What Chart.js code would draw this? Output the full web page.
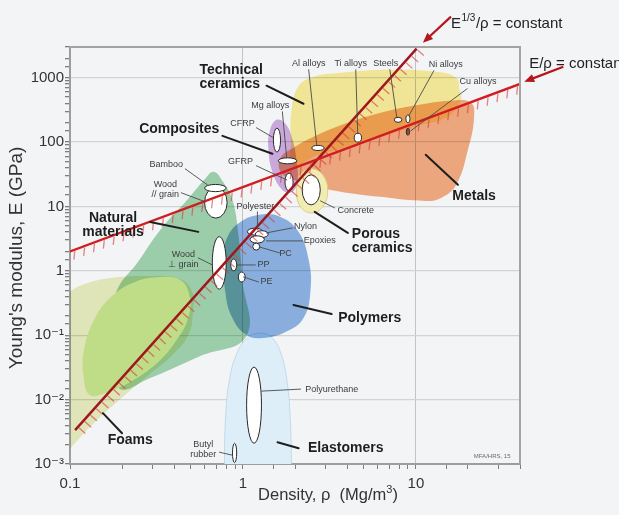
<!DOCTYPE html>
<html>
<head>
<meta charset="utf-8">
<title>Young's modulus vs density</title>
<script src="https://cdn.jsdelivr.net/npm/chart.js@4/dist/chart.umd.min.js"></script>
<style>
  html, body { margin: 0; padding: 0; background: #f3f4f6; }
  #wrap { width: 619px; height: 515px; position: relative; }
</style>
</head>
<body>
<div id="wrap"><canvas id="chart" width="619" height="515"></canvas></div>
<script>
// ---- Axis ticks -------------------------------------------------------
const xTickValues = [0.1, 1, 10];
const xTickText = ['0.1', '1', '10'];
const yTickValues = [0.001, 0.01, 0.1, 1, 10, 100, 1000];
const yTickText = ['10\u207B\u00B3', '10\u207B\u00B2', '10\u207B\u00B9', '1', '10', '100', '1000'];

// ---- Material-class envelopes: [density Mg/m3, modulus GPa] ------------
const foamsOuter = [[0.0875,0.352],[0.103,0.504],[0.122,0.625],[0.171,0.774],[0.291,0.83],[0.434,0.746],
  [0.509,0.469],[0.515,0.246],[0.483,0.1006],[0.38,0.0458],[0.276,0.0225],[0.149,0.00534],[0.104,0.00195],[0.0875,0.00107]];
const foamsCore = [[0.1205,0.0201],[0.1205,0.0589],[0.1396,0.185],[0.175,0.406],[0.238,0.671],[0.3325,0.80],
  [0.434,0.721],[0.49,0.421],[0.483,0.185],[0.406,0.0783],[0.319,0.0369],[0.223,0.0187],[0.1595,0.0126],[0.1306,0.0117]];
const naturalMaterials = [[0.675,34.5],[0.761,24.9],[0.869,12.7],[0.942,3.61],[0.993,0.721],[1.048,0.0971],
  [0.567,0.0474],[0.291,0.0216],[0.19,0.0151],[0.157,0.0842],[0.187,0.504],[0.2445,1.33],[0.3325,4.33],[0.477,12.7],[0.598,25.9]];
const polymers = [[0.771,1.77],[0.824,3.61],[0.967,5.76],[1.23,7.40],[1.65,6.89],[2.10,4.02],[2.40,1.48],
  [2.46,0.504],[2.24,0.185],[1.762,0.112],[1.297,0.0904],[1.048,0.1006],[0.869,0.185],[0.792,0.453]];
const elastomers = [[0.792,0.0048],[0.835,0.0201],[0.929,0.0548],[1.076,0.0937],[1.263,0.108],[1.48,0.0904],
  [1.67,0.0492],[1.811,0.0168],[1.885,0.0040],[1.91,0.0009],[1.91,0.0004],[0.781,0.0004],[0.781,0.0009]];
const technicalCeramics = [[1.89,109],[1.91,318],[2.07,699],[2.46,1000],[3.68,1197],[7.16,1331],[13.1,1240],
  [17.1,1000],[17.9,650],[18.2,455],[15.3,247],[9.73,173],[6.27,121],[4.03,84.5],[2.56,59],[1.95,42]];
const metals = [[1.65,57],[1.96,81.5],[2.56,121],[4.03,200],[6.27,286],[9.73,367],[16.0,439],[20.8,408],
  [21.7,239],[20.0,75.9],[17.1,21.7],[14.0,13.6],[11.4,12.2],[6.27,14.1],[3.22,18.1],[1.96,25.9],[1.65,34.5]];
const porousCeramics = [[2.495,38.4],[2.89,31.0],[3.09,17.5],[2.89,9.86],[2.495,7.95],[2.155,9.86],[2.04,17.5],[2.155,31.0]];
const composites = [[1.563,222],[1.762,193],[1.936,109],[2.04,53.1],[2.07,25.9],[1.936,16.9],[1.69,18.1],
  [1.48,34.5],[1.405,75.9],[1.425,145]];

// ---- Material families: density range and modulus range ---------------
const familyNames = ['CFRP','GFRP','Mg alloys','Al alloys','Ti alloys','Steels','Ni alloys','Cu alloys','Concrete',
  'Wood // grain','Bamboo','Wood \u22A5 grain','Polyester','Nylon','Epoxies','PC','PP','PE','Polyurethane','Butyl rubber'];
const familyRho = [[1.5,1.65],[1.75,1.95],[1.6,2.05],[2.5,2.95],[4.4,4.85],[7.5,8.3],[8.75,9.25],[8.8,9.2],[2.2,2.8],
  [0.6,0.81],[0.6,0.8],[0.665,0.8],[1.06,1.3],[1.18,1.4],[1.1,1.33],[1.14,1.25],[0.85,0.92],[0.94,1.03],[1.05,1.28],[0.87,0.92]];
const familyE = [[70,165],[17.5,33],[46,57],[74,89],[100,137],[203,243],[200,265],[128,164],[10.6,31],
  [6.6,20],[17,22],[0.52,3.4],[3.6,4.6],[3.3,4.2],[2.7,3.5],[2.1,2.7],[1.0,1.53],[0.67,0.96],[0.0021,0.032],[0.00105,0.0021]];

// ---- Selection guidelines ----------------------------------------------
const guideSpecific = [[0.1, 2], [40, 800]];        // E/rho = 20
const guideCubic = [[0.107, 0.00336], [10.1, 2830]]; // E^(1/3)/rho = 1.4

// ---- Styling / annotation layout ----------------------------------------
const FONT = "'Liberation Sans', Arial, Helvetica, 'DejaVu Sans', sans-serif";
const familyFill = { 'Cu alloys': '#5a5a5a' };

const classLabels = [
  { text: ['Technical', 'ceramics'], at: [0.56, 1018], from: [1.368, 751], to: [2.24, 394], align: 'left' },
  { text: ['Composites'], at: [0.428, 161], from: [0.761, 125], to: [1.48, 65.8] },
  { text: ['Natural', 'materials'], at: [0.1775, 5.17], from: [0.291, 5.76], to: [0.552, 4.03] },
  { text: ['Foams'], at: [0.223, 0.00234], from: [0.2, 0.00301], to: [0.155, 0.00617] },
  { text: ['Polymers'], at: [5.41, 0.185], from: [3.26, 0.214], to: [1.96, 0.295] },
  { text: ['Elastomers'], at: [3.93, 0.00176], from: [2.10, 0.00176], to: [1.585, 0.00218] },
  { text: ['Metals'], at: [21.7, 14.6], from: [17.5, 21.7], to: [11.4, 63.5] },
  { text: ['Porous', 'ceramics'], at: [4.26, 2.87], from: [4.04, 3.89], to: [2.60, 8.24], align: 'left' }
];
const familyLabels = [
  { text: ['Al alloys'], at: [2.40, 1651], from: [2.40, 1331], to: [2.67, 90.8] },
  { text: ['Ti alloys'], at: [4.2, 1651], from: [4.49, 1331], to: [4.61, 135] },
  { text: ['Steels'], at: [6.70, 1651], from: [7.07, 1331], to: [7.76, 239] },
  { text: ['Ni alloys'], at: [14.9, 1592], from: [12.7, 1285], to: [9.1, 256] },
  { text: ['Cu alloys'], at: [22.9, 866], from: [19.8, 674], to: [9.35, 150] },
  { text: ['Mg alloys'], at: [1.44, 367], from: [1.69, 296], to: [1.79, 57] },
  { text: ['CFRP'], at: [0.993, 193], from: [1.197, 167], to: [1.50, 117] },
  { text: ['GFRP'], at: [0.967, 49.4], from: [1.197, 42.8], to: [1.79, 25.9] },
  { text: ['Bamboo'], at: [0.36, 44.4], from: [0.464, 38.4], to: [0.623, 21.7] },
  { text: ['Wood', '// grain'], at: [0.356, 18.1], from: [0.44, 16.3], to: [0.607, 11.8] },
  { text: ['Wood', '\u22A5 grain'], at: [0.452, 1.477], from: [0.552, 1.587], to: [0.666, 1.235] },
  { text: ['Polyester'], at: [1.18, 9.86], from: [1.213, 8.24], to: [1.213, 4.48] },
  { text: ['Nylon'], at: [2.30, 4.82], from: [1.936, 4.65], to: [1.368, 3.89] },
  { text: ['Epoxies'], at: [2.78, 2.92], from: [2.21, 2.92], to: [1.368, 2.92] },
  { text: ['PC'], at: [1.763, 1.83], from: [1.628, 1.90], to: [1.246, 2.35] },
  { text: ['PP'], at: [1.315, 1.235], from: [1.18, 1.235], to: [0.917, 1.235] },
  { text: ['PE'], at: [1.368, 0.672], from: [1.23, 0.672], to: [1.007, 0.804] },
  { text: ['Polyurethane'], at: [3.26, 0.01456], from: [2.155, 0.01456], to: [1.28, 0.01355] },
  { text: ['Butyl', 'rubber'], at: [0.59, 0.0017], from: [0.731, 0.001526], to: [0.869, 0.00137] },
  { text: ['Concrete'], at: [4.49, 8.55], from: [3.39, 9.51], to: [2.81, 12.2] }
];
const guideNotes = {
  cubic: { at: [15.96, 6918], tail: [15.96, 8888], tip: [10.98, 3500] },
  specific: { at: [45.2, 1651], tail: [71.2, 1483], tip: [42.3, 866] }
};

// ---- Helpers -------------------------------------------------------------
const toXY = arr => arr.map(([x, y]) => ({ x, y }));
const sameLog = (a, b) => Math.abs(Math.log10(a) - Math.log10(b)) < 1e-6;
const isDecade = v => { const l = Math.log10(v); return Math.abs(l - Math.round(l)) < 1e-6; };
function tickText(v, values, texts) {
  const i = values.findIndex(t => sameLog(t, v));
  return i >= 0 ? texts[i] : '';
}
function toPx(chart, p) {
  return [chart.scales.x.getPixelForValue(p[0]), chart.scales.y.getPixelForValue(p[1])];
}

// Back-to-front drawing list
const drawList = [
  { data: foamsOuter, fill: '#eaefc0', blend: 'multiply' },
  { data: naturalMaterials, fill: '#a4d7b0', blend: 'multiply' },
  { data: foamsCore, fill: '#bedd86', blend: 'source-over' },
  { data: elastomers, fill: '#ddeef8', blend: 'source-over', edge: 'rgba(165,198,222,0.55)' },
  { data: polymers, fill: '#90b6e6', blend: 'multiply' },
  { data: technicalCeramics, fill: '#fcf09c', blend: 'multiply' },
  { data: metals, fill: '#f8ae82', blend: 'multiply' },
  { data: porousCeramics, fill: '#f1ecb2', blend: 'source-over', edge: '#dad07f' },
  { data: composites, fill: '#d3b1e3', blend: 'multiply', familiesAfter: true },
  { data: guideCubic, line: '#9f171c', hatch: { spacing: 8.6, length: 10, angle: 42, color: 'rgba(214,60,60,0.62)', width: 1.3 } },
  { data: guideSpecific, line: '#d11d20', hatch: { spacing: 10.5, length: 10, angle: 96, color: 'rgba(214,60,60,0.62)', width: 1.3 } }
];

const datasets = drawList.map((d, i) => {
  const base = {
    data: toXY(d.data),
    showLine: true,
    order: drawList.length - i,
    pointRadius: 0,
    pointHoverRadius: 0,
    blend: d.blend || 'source-over',
    familiesAfter: !!d.familiesAfter,
    hatch: d.hatch || null
  };
  if (d.line) {
    return Object.assign(base, { borderColor: d.line, borderWidth: 2.4, fill: false, tension: 0 });
  }
  return Object.assign(base, {
    closed: true,
    backgroundColor: d.fill,
    borderColor: d.edge || 'rgba(0,0,0,0)',
    borderWidth: d.edge ? 1 : 0,
    fill: 'shape',
    tension: 0.42
  });
});

// ---- Drawing routines ----------------------------------------------------
function drawFamilies(chart) {
  const ctx = chart.ctx, xs = chart.scales.x, ys = chart.scales.y;
  const a = chart.chartArea;
  ctx.save();
  ctx.beginPath(); ctx.rect(a.left, a.top, a.right - a.left, a.bottom - a.top); ctx.clip();
  familyNames.forEach((name, i) => {
    const x0 = xs.getPixelForValue(familyRho[i][0]), x1 = xs.getPixelForValue(familyRho[i][1]);
    const y0 = ys.getPixelForValue(familyE[i][0]), y1 = ys.getPixelForValue(familyE[i][1]);
    ctx.beginPath();
    ctx.ellipse((x0 + x1) / 2, (y0 + y1) / 2, Math.abs(x1 - x0) / 2, Math.abs(y1 - y0) / 2, 0, 0, Math.PI * 2);
    ctx.fillStyle = familyFill[name] || '#ffffff';
    ctx.fill();
    ctx.lineWidth = 1;
    ctx.strokeStyle = '#2a2a2a';
    ctx.stroke();
  });
  ctx.restore();
}

function drawHatch(chart, meta, h) {
  const pts = meta.data;
  if (!pts || pts.length < 2) return;
  const ctx = chart.ctx, a = chart.chartArea;
  const p = pts[0], q = pts[pts.length - 1];
  const dx = q.x - p.x, dy = q.y - p.y, len = Math.hypot(dx, dy);
  const ux = dx / len, uy = dy / len;
  const ang = h.angle * Math.PI / 180, tx = Math.cos(ang), ty = Math.sin(ang);
  ctx.save();
  ctx.beginPath(); ctx.rect(a.left, a.top, a.right - a.left, a.bottom - a.top); ctx.clip();
  ctx.strokeStyle = h.color; ctx.lineWidth = h.width;
  ctx.beginPath();
  for (let s = h.spacing / 2; s < len; s += h.spacing) {
    const x = p.x + ux * s, y = p.y + uy * s;
    ctx.moveTo(x + tx * 1.6, y + ty * 1.6);
    ctx.lineTo(x + tx * h.length, y + ty * h.length);
  }
  ctx.stroke();
  ctx.restore();
}

function drawLabel(chart, lab, st) {
  const ctx = chart.ctx;
  const [fx, fy] = toPx(chart, lab.from), [tx, ty] = toPx(chart, lab.to);
  ctx.save();
  ctx.strokeStyle = st.lead; ctx.lineWidth = st.leadWidth; ctx.lineCap = 'round';
  ctx.beginPath(); ctx.moveTo(fx, fy); ctx.lineTo(tx, ty); ctx.stroke();
  const [ax, ay] = toPx(chart, lab.at);
  ctx.font = st.font; ctx.fillStyle = st.color;
  ctx.textAlign = lab.align || 'center'; ctx.textBaseline = 'middle';
  const n = lab.text.length;
  lab.text.forEach((t, i) => ctx.fillText(t, ax, ay + (i - (n - 1) / 2) * st.lineHeight));
  ctx.restore();
}

function drawArrow(chart, note) {
  const ctx = chart.ctx;
  const [x0, y0] = toPx(chart, note.tail), [x1, y1] = toPx(chart, note.tip);
  const ang = Math.atan2(y1 - y0, x1 - x0), head = 10, half = 4.2;
  ctx.save();
  ctx.strokeStyle = '#b4161c'; ctx.fillStyle = '#b4161c'; ctx.lineWidth = 2.2;
  ctx.beginPath(); ctx.moveTo(x0, y0);
  ctx.lineTo(x1 - Math.cos(ang) * head * 0.8, y1 - Math.sin(ang) * head * 0.8); ctx.stroke();
  ctx.beginPath();
  ctx.moveTo(x1, y1);
  ctx.lineTo(x1 - Math.cos(ang) * head - Math.sin(ang) * half, y1 - Math.sin(ang) * head + Math.cos(ang) * half);
  ctx.lineTo(x1 - Math.cos(ang) * head + Math.sin(ang) * half, y1 - Math.sin(ang) * head - Math.cos(ang) * half);
  ctx.closePath(); ctx.fill();
  ctx.restore();
}

function setBlend(chart, meta) {
  const ds = meta ? chart.data.datasets[meta.index] : null;
  chart.ctx.globalCompositeOperation = (ds && ds.blend) || 'source-over';
}

const ashbyPlugin = {
  id: 'ashby',
  beforeDraw(chart) {
    const ctx = chart.ctx;
    ctx.save();
    ctx.fillStyle = '#f3f4f6';
    ctx.fillRect(0, 0, chart.width, chart.height);
    ctx.restore();
  },
  afterDatasetUpdate(chart, args) {
    // close each envelope into a smooth loop
    const ds = chart.data.datasets[args.index];
    const line = args.meta.dataset;
    if (ds.closed && line) {
      line._fullLoop = true;
      delete line._segments;
      delete line._path;
      line._pointsUpdated = false;
    }
  },
  beforeDatasetsDraw(chart) {
    const metas = chart.getSortedVisibleDatasetMetas();
    setBlend(chart, metas[metas.length - 1]);
  },
  afterDatasetDraw(chart, args) {
    const ds = chart.data.datasets[args.index];
    chart.ctx.globalCompositeOperation = 'source-over';
    if (ds.hatch) drawHatch(chart, args.meta, ds.hatch);
    if (ds.familiesAfter) drawFamilies(chart);
    const metas = chart.getSortedVisibleDatasetMetas();
    const pos = metas.indexOf(args.meta);
    if (pos > 0) setBlend(chart, metas[pos - 1]);
  },
  afterDatasetsDraw(chart) {
    const ctx = chart.ctx, a = chart.chartArea;
    ctx.globalCompositeOperation = 'source-over';
    ctx.save();
    ctx.strokeStyle = '#a3a3a3'; ctx.lineWidth = 2;
    ctx.beginPath();
    ctx.moveTo(a.left, a.top); ctx.lineTo(a.right, a.top); ctx.lineTo(a.right, a.bottom);
    ctx.stroke();
    ctx.restore();
  },
  afterDraw(chart) {
    const ctx = chart.ctx, a = chart.chartArea;
    classLabels.forEach(l => drawLabel(chart, l, {
      font: `bold 14px ${FONT}`, color: '#1e1e1e', lead: '#1e1e1e', leadWidth: 2, lineHeight: 13.5 }));
    familyLabels.forEach(l => drawLabel(chart, l, {
      font: `9px ${FONT}`, color: '#3c3c3c', lead: '#4a4a4a', leadWidth: 0.9, lineHeight: 10 }));

    // credit
    ctx.save();
    const [cx, cy] = toPx(chart, [27.6, 0.00132]);
    ctx.font = `6px ${FONT}`; ctx.fillStyle = '#6a6a6a'; ctx.textAlign = 'center'; ctx.textBaseline = 'middle';
    ctx.fillText('MFA/HRS, 15', cx, cy);
    ctx.restore();

    // guideline captions and arrows
    drawArrow(chart, guideNotes.cubic);
    drawArrow(chart, guideNotes.specific);
    ctx.save();
    ctx.fillStyle = '#222'; ctx.textBaseline = 'middle'; ctx.textAlign = 'left';
    let [gx, gy] = toPx(chart, guideNotes.cubic.at);
    ctx.font = `15px ${FONT}`; ctx.fillText('E', gx, gy); gx += ctx.measureText('E').width + 0.5;
    ctx.font = `10px ${FONT}`; ctx.fillText('1/3', gx, gy - 5); gx += ctx.measureText('1/3').width + 0.5;
    ctx.font = `15px ${FONT}`; ctx.fillText('/\u03C1 = constant', gx, gy);
    const [sx, sy] = toPx(chart, guideNotes.specific.at);
    ctx.fillText('E/\u03C1 = constant', sx, sy);
    ctx.restore();

    // axis titles
    ctx.save();
    ctx.fillStyle = '#333'; ctx.textBaseline = 'middle';
    const main = 'Density, \u03C1  (Mg/m', close = ')';
    ctx.font = `16.5px ${FONT}`; const w1 = ctx.measureText(main).width;
    ctx.font = `11px ${FONT}`; const w2 = ctx.measureText('3').width;
    ctx.font = `16.5px ${FONT}`; const w3 = ctx.measureText(close).width;
    let tx = a.left + 258 - (w1 + w2 + w3) / 2;
    const ty = a.bottom + 31;
    ctx.textAlign = 'left';
    ctx.fillText(main, tx, ty); tx += w1;
    ctx.font = `11px ${FONT}`; ctx.fillText('3', tx, ty - 5); tx += w2;
    ctx.font = `16.5px ${FONT}`; ctx.fillText(close, tx, ty);
    ctx.translate(a.left - 53, (a.top + a.bottom) / 2 + 2.5);
    ctx.rotate(-Math.PI / 2);
    ctx.textAlign = 'center';
    ctx.font = `19px ${FONT}`;
    ctx.fillText("Young's modulus, E (GPa)", 0, 0);
    ctx.restore();
  }
};

Chart.defaults.font.family = FONT;
Chart.defaults.color = '#333';

new Chart(document.getElementById('chart'), {
  type: 'scatter',
  data: { datasets },
  plugins: [ashbyPlugin],
  options: {
    responsive: false,
    devicePixelRatio: 1,
    animation: false,
    events: [],
    layout: { padding: { left: 0, right: 99, top: 47, bottom: 0 } },
    plugins: { legend: { display: false }, tooltip: { enabled: false } },
    scales: {
      x: {
        type: 'logarithmic', min: 0.1, max: 40, position: 'bottom',
        afterFit: s => { s.height = 51; },
        border: { display: true, color: '#9d9d9d', width: 2 },
        grid: {
          color: c => (c.tick && isDecade(c.tick.value) && c.tick.value > 0.11) ? '#c3c3c3' : 'rgba(0,0,0,0)',
          lineWidth: 1, tickColor: '#7d7d7d', tickLength: 5, drawTicks: true
        },
        ticks: { autoSkip: false, maxRotation: 0, padding: 6, font: { size: 15 }, color: '#333',
          callback: v => tickText(v, xTickValues, xTickText) }
      },
      y: {
        type: 'logarithmic', min: 0.001, max: 3000, position: 'left',
        afterFit: s => { s.width = 70; },
        border: { display: true, color: '#9d9d9d', width: 2 },
        grid: {
          color: c => (c.tick && isDecade(c.tick.value) && c.tick.value > 0.0011) ? '#d2d2d2' : 'rgba(0,0,0,0)',
          lineWidth: 1.3, tickColor: '#7d7d7d', tickLength: 5, drawTicks: true
        },
        ticks: { autoSkip: false, padding: 1, font: { size: 15 }, color: '#333',
          callback: v => tickText(v, yTickValues, yTickText) }
      }
    }
  }
});
</script>
</body>
</html>
